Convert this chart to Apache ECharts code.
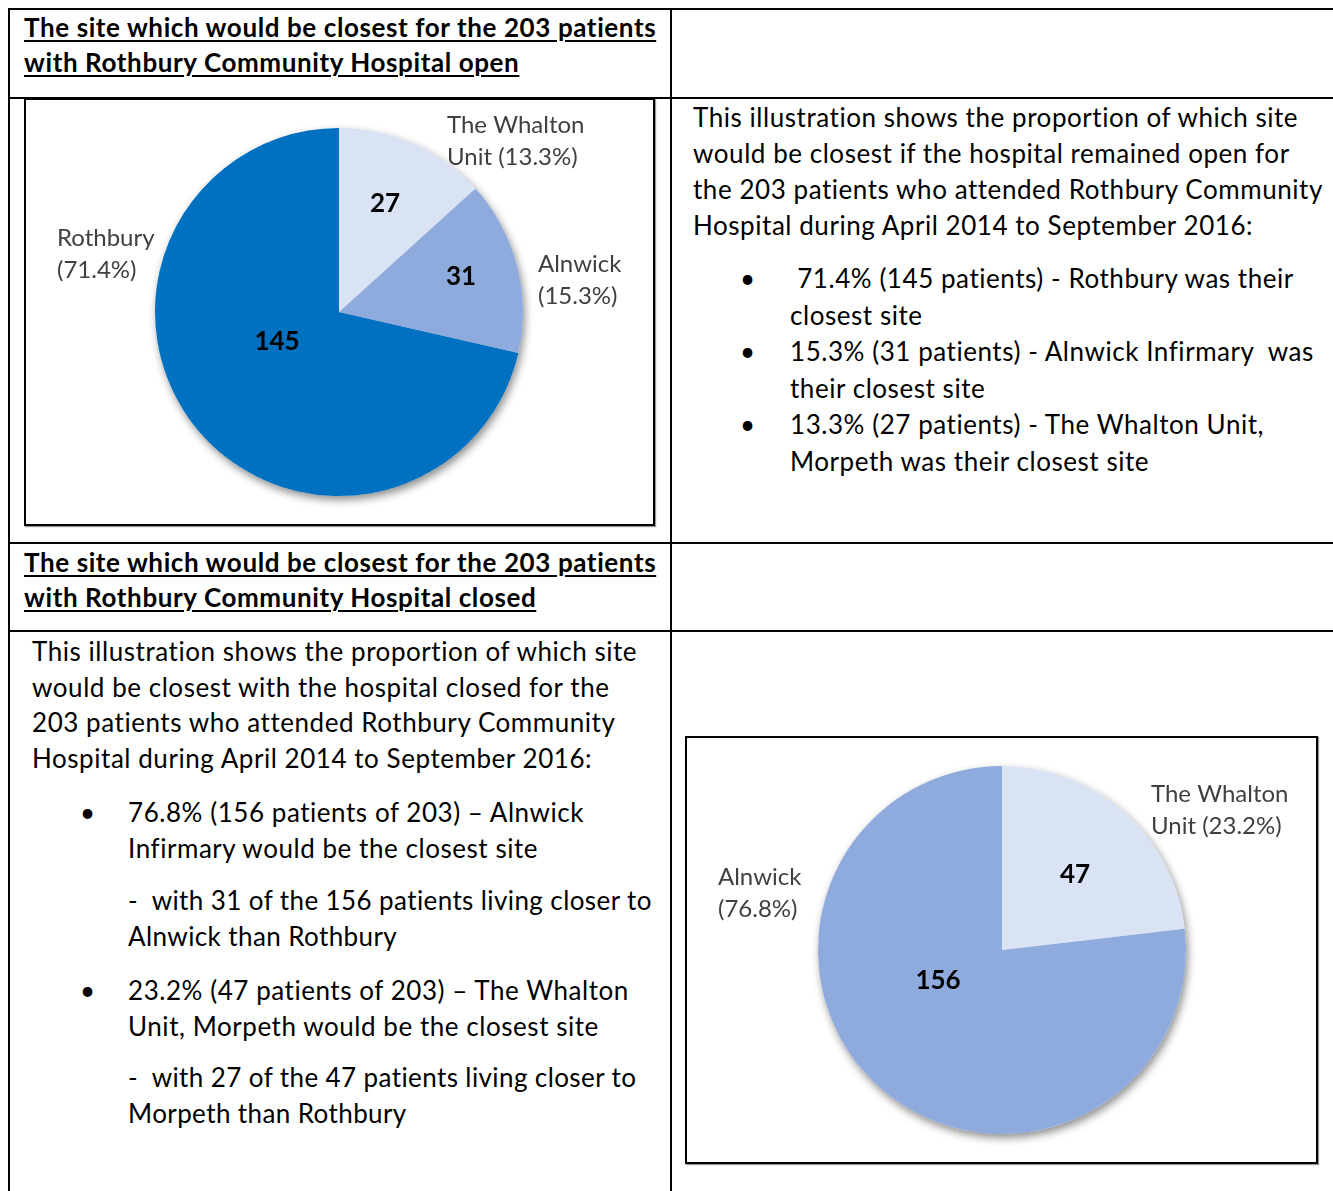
<!DOCTYPE html>
<html>
<head>
<meta charset="utf-8">
<script src="https://cdn.jsdelivr.net/npm/echarts@6/dist/echarts.min.js"></script>
<style>
  body { margin: 0; background: #fff; font-family: Lato, "Noto Sans", sans-serif; color: #000; }
  #page { position: relative; width: 1333px; height: 1191px; overflow: hidden; }
  .hl { position: absolute; left: 8px; width: 1325px; height: 2px; background: #000; }
  .vl { position: absolute; top: 8px; width: 2px; height: 1183px; background: #000; }
  .txt { position: absolute; white-space: nowrap; font-size: 26px; letter-spacing: 0.55px; }
  .head { font-weight: bold; text-decoration: underline; text-decoration-thickness: 2px; text-underline-offset: 3px; line-height: 35px; font-size: 26px; letter-spacing: 0.6px; }
  .item { position: absolute; white-space: nowrap; font-size: 26px; letter-spacing: 0.55px; }
  .item .dot { position: absolute; left: 0; top: 0; }
  .box { position: absolute; border: 2px solid #000; box-sizing: border-box; box-shadow: 1px 1px 1px #999; }
  .box > div { width: 100%; height: 100%; }
</style>
</head>
<body>
<div id="page">
  <div class="hl" style="top:8px"></div>
  <div class="hl" style="top:97px"></div>
  <div class="hl" style="top:542px"></div>
  <div class="hl" style="top:630px"></div>
  <div class="vl" style="left:8px"></div>
  <div class="vl" style="left:670px"></div>

  <div class="txt head" style="left:24px;top:10px">The site which would be closest for the 203 patients<br>with Rothbury Community Hospital open</div>
  <div class="txt head" style="left:24px;top:545px">The site which would be closest for the 203 patients<br>with Rothbury Community Hospital closed</div>

  <div class="txt" style="left:693px;top:99px;line-height:36px">This illustration shows the proportion of which site<br>would be closest if the hospital remained open for<br>the 203 patients who attended Rothbury Community<br>Hospital during April 2014 to September 2016:</div>

  <div class="item" style="left:740px;top:260px;line-height:36.5px"><span class="dot">•</span><div style="margin-left:50px">&nbsp;71.4% (145 patients) - Rothbury was their<br>closest site</div></div>
  <div class="item" style="left:740px;top:333px;line-height:36.5px"><span class="dot">•</span><div style="margin-left:50px">15.3% (31 patients) - Alnwick Infirmary&nbsp; was<br>their closest site</div></div>
  <div class="item" style="left:740px;top:406px;line-height:36.5px"><span class="dot">•</span><div style="margin-left:50px">13.3% (27 patients) - The Whalton Unit,<br>Morpeth was their closest site</div></div>

  <div class="txt" style="left:32px;top:634px;line-height:35.7px">This illustration shows the proportion of which site<br>would be closest with the hospital closed for the<br>203 patients who attended Rothbury Community<br>Hospital during April 2014 to September 2016:</div>

  <div class="item" style="left:80px;top:794px;line-height:36px"><span class="dot">•</span><div style="margin-left:48px">76.8% (156 patients of 203) – Alnwick<br>Infirmary would be the closest site</div></div>
  <div class="item" style="left:128px;top:882px;line-height:36px;letter-spacing:0.4px">-&nbsp; with 31 of the 156 patients living closer to<br>Alnwick than Rothbury</div>
  <div class="item" style="left:80px;top:972px;line-height:36px"><span class="dot">•</span><div style="margin-left:48px">23.2% (47 patients of 203) – The Whalton<br>Unit, Morpeth would be the closest site</div></div>
  <div class="item" style="left:128px;top:1059px;line-height:36px;letter-spacing:0.4px">-&nbsp; with 27 of the 47 patients living closer to<br>Morpeth than Rothbury</div>

  <div class="box" style="left:24px;top:98px;width:631px;height:428px"><div id="pieOpen"></div></div>
  <div class="box" style="left:685px;top:736px;width:633px;height:428px"><div id="pieClosed"></div></div>
</div>

<script>
// hospital open: closest site for the 203 patients
var openSites = ["The Whalton Unit", "Alnwick", "Rothbury"];
var openPatients = [27, 31, 145];

// hospital closed
var closedSites = ["The Whalton Unit", "Alnwick"];
var closedPatients = [47, 156];

var siteColors = {
  "The Whalton Unit": "#DAE3F3",
  "Alnwick": "#8FAADC",
  "Rothbury": "#0070C0"
};

function buildData(sites, values) {
  return sites.map(function (s, i) {
    return { name: s, value: values[i], itemStyle: { color: siteColors[s] } };
  });
}

function nameLabel(p) {
  var n = p.name.replace("The Whalton ", "The Whalton\n");
  return n + (n.indexOf("\n") >= 0 ? " " : "\n") + "(" + p.percent.toFixed(1) + "%)";
}

// label spots in chart pixels, as the labels were placed by hand in the original
function drawPie(el, sites, values, center, valuePos, namePos) {
  var chart = echarts.init(document.getElementById(el));
  var data = buildData(sites, values);
  var total = values.reduce(function (a, b) { return a + b; }, 0);
  chart.setOption({
    animation: false,
    series: [
      {
        // soft shadow under the whole pie
        type: "pie",
        silent: true,
        center: center,
        radius: 184,
        label: { show: false },
        labelLine: { show: false },
        itemStyle: {
          color: "#fff",
          shadowBlur: 9,
          shadowColor: "rgba(0,0,0,0.45)",
          shadowOffsetX: 2,
          shadowOffsetY: 4
        },
        data: [{ name: "all", value: total }]
      },
      {
        type: "pie",
        silent: true,
        center: center,
        radius: 184,
        startAngle: 90,
        clockwise: true,
        percentPrecision: 1,
        itemStyle: { borderWidth: 0 },
        label: {
          show: true,
          position: "inside",
          formatter: "{c}",
          color: "#000",
          fontFamily: "Lato",
          fontWeight: "bold",
          fontSize: 26
        },
        labelLayout: function (p) {
          var xy = valuePos[p.dataIndex];
          return { x: xy[0], y: xy[1], align: "center", verticalAlign: "middle" };
        },
        data: data
      },
      {
        type: "pie",
        silent: true,
        center: center,
        radius: 184,
        startAngle: 90,
        clockwise: true,
        percentPrecision: 1,
        avoidLabelOverlap: false,
        itemStyle: { color: "transparent", borderWidth: 0 },
        labelLine: { show: false },
        label: {
          show: true,
          position: "outside",
          formatter: nameLabel,
          color: "#404040",
          fontFamily: "Lato",
          fontSize: 24,
          lineHeight: 32,
          align: "left",
          overflow: "none",
          width: 200
        },
        labelLayout: function (p) {
          var xy = namePos[p.dataIndex];
          return { x: xy[0], y: xy[1], align: "left", verticalAlign: "middle" };
        },
        data: sites.map(function (s, i) { return { name: s, value: values[i] }; })
      }
    ]
  });
  return chart;
}

drawPie("pieOpen", openSites, openPatients, [313, 212],
  [[359, 104], [435, 177], [251, 242]],
  [[421, 41], [512, 180], [31, 154]]);

drawPie("pieClosed", closedSites, closedPatients, [315, 212],
  [[388, 137], [251, 243]],
  [[464, 72], [31, 155]]);
</script>
</body>
</html>
